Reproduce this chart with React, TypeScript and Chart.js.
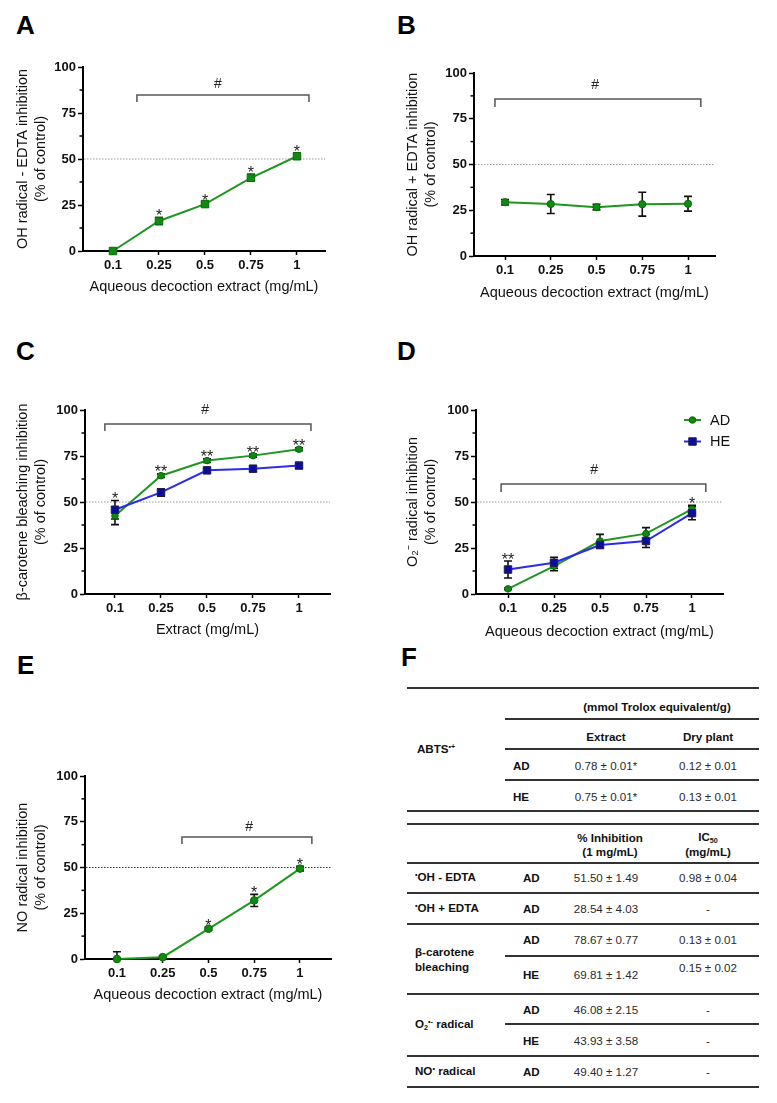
import React, { useEffect, useRef } from 'react';
import { Chart, registerables } from 'chart.js';

Chart.register(...registerables);

const FONT = '"Liberation Sans", Arial, Helvetica, sans-serif';
const GREEN = '#1f961f';
const GREEN_PT = '#108a10';
const BLUE = '#2a2af0';
const BLUE_PT = '#0c0ca0';

// ---------- data ----------
const doses = ['0.1', '0.25', '0.5', '0.75', '1'];

const ohMinusEdta = [0, 16.3, 25.5, 39.8, 51.5];
const ohMinusEdtaErr = [0.5, 1.9, 1.0, 1.9, 1.49];
const starsA = ['', '*', '*', '*', '*'];

const ohPlusEdta = [29.4, 28.4, 26.7, 28.3, 28.54];
const ohPlusEdtaErr = [1.5, 5.2, 1.5, 6.5, 4.03];
const starsB = ['', '', '', '', ''];

const betaAD = [42.5, 64.3, 72.5, 75.2, 78.67];
const betaADErr = [4.8, 1.0, 1.0, 0.8, 0.77];
const betaHE = [45.8, 55.2, 67.2, 68.1, 69.81];
const betaHEErr = [5.0, 2.0, 1.4, 1.4, 1.42];
const starsC = ['*', '**', '**', '**', '**'];

const superAD = [2.8, 15.2, 28.8, 32.8, 46.08];
const superADErr = [0.5, 2.5, 3.6, 3.3, 2.15];
const superHE = [13.3, 17.0, 26.6, 28.8, 43.93];
const superHEErr = [4.6, 3.0, 1.5, 3.5, 3.58];
const starsD = ['**', '', '', '', '*'];

const noAD = [0, 1.0, 16.5, 32, 49.4];
const noADErr = [4, 0.8, 0.8, 3.3, 1.27];
const starsE = ['', '', '*', '*', '*'];

// bracket: [x from, x to, level, tick end] (x in category index units, y in % units)
const bracketA = [0.52, 4.26, 84.8, 81];
const bracketB = [-0.22, 4.28, 85.8, 81.4];
const bracketC = [-0.22, 4.26, 92.4, 88.6];
const bracketD = [-0.15, 4.3, 59.8, 55.4];
const bracketE = [1.42, 4.26, 66.7, 62.8];
// hash sign position [x, y]
const hashA = [2.28, 90.8];
const hashB = [1.97, 93.4];
const hashC = [1.96, 100];
const hashD = [1.87, 67.4];
const hashE = [2.89, 72];

const refLevel = 50;

type Series = {
  label: string;
  values: number[];
  errors: number[];
  color: string;
  pointColor: string;
  pointBorder: string;
  pointStyle: string;
  radius: number;
};

type Panel = {
  box: [number, number, number, number]; // left, top, width, height (page)
  area: [number, number, number, number]; // left, right, top, bottom (page)
  xMin: number;
  xMax: number;
  yTitle: string[];
  xTitle: string;
  series: Series[];
  stars: string[];
  bracket: number[];
  hash: number[];
  refColor: string;
  legend?: { x: number; y: number; dy: number };
};

const adSeries = (values: number[], errors: number[], style = 'circle', radius = 3.3): Series => ({
  label: 'AD',
  values,
  errors,
  color: GREEN,
  pointColor: GREEN_PT,
  pointBorder: '#0a6a0a',
  pointStyle: style,
  radius,
});
const heSeries = (values: number[], errors: number[]): Series => ({
  label: 'HE',
  values,
  errors,
  color: BLUE,
  pointColor: BLUE_PT,
  pointBorder: '#222244',
  pointStyle: 'rect',
  radius: 5.3,
});

const panels: Panel[] = [
  {
    box: [0, 40, 390, 260],
    area: [83, 325, 67, 251],
    xMin: -0.652,
    xMax: 4.609,
    yTitle: ['OH radical - EDTA inhibition', '(% of control)'],
    xTitle: 'Aqueous decoction extract (mg/mL)',
    series: [adSeries(ohMinusEdta, ohMinusEdtaErr, 'rect', 5.3)],
    stars: starsA,
    bracket: bracketA,
    hash: hashA,
    refColor: '#9a9a9a',
  },
  {
    box: [390, 40, 387, 266],
    area: [474, 715, 73, 256],
    xMin: -0.678,
    xMax: 4.59,
    yTitle: ['OH radical + EDTA inhibition', '(% of control)'],
    xTitle: 'Aqueous decoction extract (mg/mL)',
    series: [adSeries(ohPlusEdta, ohPlusEdtaErr, 'circle', 3.6)],
    stars: starsB,
    bracket: bracketB,
    hash: hashB,
    refColor: '#9a9a9a',
  },
  {
    box: [0, 370, 390, 273],
    area: [85, 330, 410, 594],
    xMin: -0.652,
    xMax: 4.674,
    yTitle: ['β-carotene bleaching inhibition', '(% of control)'],
    xTitle: 'Extract (mg/mL)',
    series: [heSeries(betaHE, betaHEErr), adSeries(betaAD, betaADErr)],
    stars: starsC,
    bracket: bracketC,
    hash: hashC,
    refColor: '#9a9a9a',
  },
  {
    box: [390, 370, 387, 275],
    area: [476, 723, 410, 594],
    xMin: -0.696,
    xMax: 4.674,
    yTitle: ['O₂⁻ radical inhibition', '(% of control)'],
    xTitle: 'Aqueous decoction extract (mg/mL)',
    series: [heSeries(superHE, superHEErr), adSeries(superAD, superADErr)],
    stars: starsD,
    bracket: bracketD,
    hash: hashD,
    refColor: '#9a9a9a',
    legend: { x: 294, y: 50, dy: 21.5 },
  },
  {
    box: [0, 700, 390, 308],
    area: [85, 331, 776, 959],
    xMin: -0.699,
    xMax: 4.678,
    yTitle: ['NO radical inhibition', '(% of control)'],
    xTitle: 'Aqueous decoction extract (mg/mL)',
    series: [adSeries(noAD, noADErr, 'circle', 3.8)],
    stars: starsE,
    bracket: bracketE,
    hash: hashE,
    refColor: '#333333',
  },
];

function makePlugin(p: Panel) {
  return {
    id: 'annot',
    beforeDatasetsDraw(chart: any) {
      const { ctx, chartArea } = chart;
      const xs = chart.scales.x;
      const ys = chart.scales.y;
      ctx.save();
      // reference line
      const y50 = ys.getPixelForValue(refLevel);
      ctx.strokeStyle = p.refColor;
      ctx.lineWidth = 1;
      ctx.setLineDash([1.5, 1.5]);
      ctx.beginPath();
      ctx.moveTo(chartArea.left + 1, y50);
      ctx.lineTo(chartArea.right, y50);
      ctx.stroke();
      ctx.setLineDash([]);
      // error bars
      ctx.strokeStyle = '#111';
      ctx.lineWidth = 1.6;
      p.series.forEach((s) => {
        s.values.forEach((v, i) => {
          const e = s.errors[i];
          if (!e) return;
          const x = xs.getPixelForValue(i);
          const top = ys.getPixelForValue(v + e);
          const lowV = v - e;
          const bot = ys.getPixelForValue(Math.max(0, lowV));
          ctx.beginPath();
          ctx.moveTo(x, top);
          ctx.lineTo(x, bot);
          ctx.moveTo(x - 4, top);
          ctx.lineTo(x + 4, top);
          if (lowV >= 0) {
            ctx.moveTo(x - 4, bot);
            ctx.lineTo(x + 4, bot);
          }
          ctx.stroke();
        });
      });
      ctx.restore();
    },
    afterDatasetsDraw(chart: any) {
      const { ctx, chartArea } = chart;
      const xs = chart.scales.x;
      const ys = chart.scales.y;
      ctx.save();
      // minor y ticks
      ctx.strokeStyle = '#000';
      ctx.lineWidth = 1.5;
      [12.5, 37.5, 62.5, 87.5].forEach((v) => {
        const y = ys.getPixelForValue(v);
        ctx.beginPath();
        ctx.moveTo(chartArea.left - 3.5, y);
        ctx.lineTo(chartArea.left, y);
        ctx.stroke();
      });
      // stars
      ctx.fillStyle = '#222';
      ctx.font = `16px ${FONT}`;
      ctx.textAlign = 'center';
      ctx.textBaseline = 'alphabetic';
      p.stars.forEach((st, i) => {
        if (!st) return;
        let m = -Infinity;
        p.series.forEach((s) => {
          m = Math.max(m, s.values[i] + (s.errors[i] || 0));
        });
        const x = xs.getPixelForValue(i);
        const y = ys.getPixelForValue(m);
        ctx.fillText(st, x, y + 3.5);
      });
      // bracket
      const [b0, b1, lv, le] = p.bracket;
      const bx0 = xs.getPixelForValue(b0);
      const bx1 = xs.getPixelForValue(b1);
      const by = ys.getPixelForValue(lv);
      const be = ys.getPixelForValue(le);
      ctx.strokeStyle = '#555';
      ctx.lineWidth = 1.5;
      ctx.beginPath();
      ctx.moveTo(bx0, be);
      ctx.lineTo(bx0, by);
      ctx.lineTo(bx1, by);
      ctx.lineTo(bx1, be);
      ctx.stroke();
      // hash
      ctx.font = `14px ${FONT}`;
      ctx.textBaseline = 'middle';
      ctx.fillStyle = '#222';
      ctx.fillText('#', xs.getPixelForValue(p.hash[0]), ys.getPixelForValue(p.hash[1]));
      // legend
      if (p.legend) {
        const L = p.legend;
        const order = [...p.series].sort((a, b) => (a.label < b.label ? -1 : 1));
        order.forEach((s, k) => {
          const y = L.y + k * L.dy;
          ctx.strokeStyle = s.color;
          ctx.lineWidth = 2;
          ctx.beginPath();
          ctx.moveTo(L.x, y);
          ctx.lineTo(L.x + 17, y);
          ctx.stroke();
          ctx.fillStyle = s.pointColor;
          ctx.strokeStyle = s.pointBorder;
          ctx.lineWidth = 1;
          const cx = L.x + 8.5;
          if (s.pointStyle === 'rect') {
            const h = s.radius * Math.SQRT1_2;
            ctx.beginPath();
            ctx.rect(cx - h, y - h, 2 * h, 2 * h);
            ctx.fill();
            ctx.stroke();
          } else {
            ctx.beginPath();
            ctx.arc(cx, y, s.radius, 0, Math.PI * 2);
            ctx.fill();
            ctx.stroke();
          }
          ctx.fillStyle = '#111';
          ctx.font = `14.5px ${FONT}`;
          ctx.textAlign = 'left';
          ctx.textBaseline = 'middle';
          ctx.fillText(s.label, L.x + 26, y + 0.5);
        });
      }
      ctx.restore();
    },
  };
}

function ChartPanel({ p }: { p: Panel }) {
  const ref = useRef<HTMLCanvasElement | null>(null);
  useEffect(() => {
    const canvas = ref.current;
    if (!canvas) return;
    const [bl, bt, bw, bh] = p.box;
    const [al, ar, at, ab] = p.area;
    const yW = al - bl;
    const xH = bt + bh - ab;
    const padTop = at - bt;
    const padRight = bl + bw - ar;
    const chart = new Chart(canvas, {
      type: 'line',
      data: {
        datasets: p.series.map((s) => ({
          label: s.label,
          data: s.values.map((v, i) => ({ x: i, y: v })),
          borderColor: s.color,
          borderWidth: 2,
          backgroundColor: s.pointColor,
          pointBackgroundColor: s.pointColor,
          pointBorderColor: s.pointBorder,
          pointBorderWidth: 1,
          pointStyle: s.pointStyle as any,
          pointRadius: s.radius,
          tension: 0,
          clip: false as any,
        })),
      },
      options: {
        animation: false,
        responsive: false,
        maintainAspectRatio: false,
        events: [],
        layout: { padding: { left: 0, top: padTop, right: padRight, bottom: 0 } },
        plugins: { legend: { display: false }, tooltip: { enabled: false } },
        scales: {
          x: {
            type: 'linear',
            min: p.xMin,
            max: p.xMax,
            afterBuildTicks: (s: any) => {
              s.ticks = doses.map((_, i) => ({ value: i }));
            },
            afterFit: (s: any) => {
              s.height = xH;
            },
            ticks: {
              callback: (v: any) => doses[v as number] ?? '',
              font: { family: FONT, size: 13, weight: 'bold' },
              color: '#111',
              padding: 3,
              autoSkip: false,
              maxRotation: 0,
            },
            grid: {
              display: true,
              drawOnChartArea: false,
              drawTicks: true,
              tickLength: 4,
              tickColor: '#000',
              tickWidth: 1.5,
            },
            border: { display: true, color: '#000', width: 2 },
            title: {
              display: true,
              text: p.xTitle,
              font: { family: FONT, size: 14.5, lineHeight: 1.25 },
              color: '#111',
              padding: { top: 0, bottom: 4 },
            },
          },
          y: {
            min: 0,
            max: 100,
            afterFit: (s: any) => {
              s.width = yW;
            },
            ticks: {
              stepSize: 25,
              font: { family: FONT, size: 13, weight: 'bold' },
              color: '#111',
              padding: 2,
            },
            grid: {
              display: true,
              drawOnChartArea: false,
              drawTicks: true,
              tickLength: 5,
              tickColor: '#000',
              tickWidth: 1.5,
            },
            border: { display: true, color: '#000', width: 2 },
            title: {
              display: true,
              text: p.yTitle,
              font: { family: FONT, size: 14.5, lineHeight: 1.25 },
              color: '#111',
              padding: { top: 14, bottom: 0 },
            },
          },
        },
      } as any,
      plugins: [makePlugin(p) as any],
    });
    return () => chart.destroy();
  }, [p]);
  const [bl, bt, bw, bh] = p.box;
  return (
    <canvas
      ref={ref}
      width={bw}
      height={bh}
      style={{ position: 'absolute', left: bl, top: bt, width: bw, height: bh }}
    />
  );
}

// ---------- table ----------
const abtsRows = [
  ['AD', '0.78 ± 0.01*', '0.12 ± 0.01'],
  ['HE', '0.75 ± 0.01*', '0.13 ± 0.01'],
];
const ohMinusRow = ['AD', '51.50 ± 1.49', '0.98 ± 0.04'];
const ohPlusRow = ['AD', '28.54 ± 4.03', '-'];
const betaRows = [
  ['AD', '78.67 ± 0.77', '0.13 ± 0.01'],
  ['HE', '69.81 ± 1.42', '0.15 ± 0.02'],
];
const superRows = [
  ['AD', '46.08 ± 2.15', '-'],
  ['HE', '43.93 ± 3.58', '-'],
];
const noRow = ['AD', '49.40 ± 1.27', '-'];

const Sup = ({ children }: { children: React.ReactNode }) => (
  <span style={{ fontSize: '0.62em', position: 'relative', top: '-0.55em' }}>{children}</span>
);
const Sub = ({ children }: { children: React.ReactNode }) => (
  <span style={{ fontSize: '0.62em', position: 'relative', top: '0.3em' }}>{children}</span>
);

function Txt({
  x,
  y,
  children,
  center = false,
  bold = false,
  size = 11.6,
}: {
  x: number;
  y: number;
  children: React.ReactNode;
  center?: boolean;
  bold?: boolean;
  size?: number;
}) {
  return (
    <div
      style={{
        position: 'absolute',
        left: x,
        top: y,
        transform: `translate(${center ? '-50%' : '0'}, -50%)`,
        whiteSpace: 'nowrap',
        fontFamily: FONT,
        fontSize: size,
        fontWeight: bold ? 700 : 400,
        color: bold ? '#111' : '#2a2a2a',
        lineHeight: '14px',
      }}
    >
      {children}
    </div>
  );
}

function HLine({ y, x1, x2 }: { y: number; x1: number; x2: number }) {
  return (
    <div
      style={{ position: 'absolute', left: x1, top: y - 1, width: x2 - x1, height: 2, background: '#333' }}
    />
  );
}

const TL = 407;
const TR = 759;
const TM = 505;
const C2 = 523;
const C3 = 606;
const C4 = 708;

function TableF() {
  return (
    <>
      <HLine y={688} x1={TL} x2={TR} />
      <Txt x={657} y={707} center bold>
        (mmol Trolox equivalent/g)
      </Txt>
      <HLine y={719} x1={TM} x2={TR} />
      <Txt x={C3} y={737} center bold>
        Extract
      </Txt>
      <Txt x={C4} y={737} center bold>
        Dry plant
      </Txt>
      <HLine y={749} x1={TM} x2={TR} />
      <Txt x={417} y={750} bold>
        ABTS<Sup>•+</Sup>
      </Txt>
      {abtsRows.map((r, k) => (
        <React.Fragment key={r[0]}>
          <Txt x={513} y={766 + k * 31} bold>
            {r[0]}
          </Txt>
          <Txt x={C3} y={766 + k * 31} center>
            {r[1]}
          </Txt>
          <Txt x={C4} y={766 + k * 31} center>
            {r[2]}
          </Txt>
        </React.Fragment>
      ))}
      <HLine y={780} x1={TM} x2={TR} />
      <HLine y={811} x1={TL} x2={TR} />
      <HLine y={824} x1={TL} x2={TR} />
      <Txt x={610} y={838} center bold>
        % Inhibition
      </Txt>
      <Txt x={610} y={852} center bold>
        (1 mg/mL)
      </Txt>
      <Txt x={C4} y={838} center bold>
        IC<Sub>50</Sub>
      </Txt>
      <Txt x={C4} y={852} center bold>
        (mg/mL)
      </Txt>
      <HLine y={863} x1={TL} x2={TR} />

      <Txt x={415} y={878} bold>
        <Sup>•</Sup>OH - EDTA
      </Txt>
      <Txt x={C2} y={878} bold>
        {ohMinusRow[0]}
      </Txt>
      <Txt x={C3} y={878} center>
        {ohMinusRow[1]}
      </Txt>
      <Txt x={C4} y={878} center>
        {ohMinusRow[2]}
      </Txt>
      <HLine y={893} x1={TL} x2={TR} />

      <Txt x={415} y={909} bold>
        <Sup>•</Sup>OH + EDTA
      </Txt>
      <Txt x={C2} y={909} bold>
        {ohPlusRow[0]}
      </Txt>
      <Txt x={C3} y={909} center>
        {ohPlusRow[1]}
      </Txt>
      <Txt x={C4} y={909} center>
        {ohPlusRow[2]}
      </Txt>
      <HLine y={924} x1={TL} x2={TR} />

      <Txt x={415} y={952} bold>
        β-carotene
      </Txt>
      <Txt x={415} y={967} bold>
        bleaching
      </Txt>
      <Txt x={C2} y={940} bold>
        {betaRows[0][0]}
      </Txt>
      <Txt x={C3} y={940} center>
        {betaRows[0][1]}
      </Txt>
      <Txt x={C4} y={940} center>
        {betaRows[0][2]}
      </Txt>
      <HLine y={956} x1={TM} x2={TR} />
      <Txt x={C2} y={975} bold>
        {betaRows[1][0]}
      </Txt>
      <Txt x={C3} y={975} center>
        {betaRows[1][1]}
      </Txt>
      <Txt x={C4} y={968} center>
        {betaRows[1][2]}
      </Txt>
      <HLine y={994} x1={TL} x2={TR} />

      <Txt x={415} y={1025} bold>
        O<Sub>2</Sub>
        <Sup>•-</Sup> radical
      </Txt>
      {superRows.map((r, k) => (
        <React.Fragment key={r[0]}>
          <Txt x={C2} y={1010 + k * 31} bold>
            {r[0]}
          </Txt>
          <Txt x={C3} y={1010 + k * 31} center>
            {r[1]}
          </Txt>
          <Txt x={C4} y={1010 + k * 31} center>
            {r[2]}
          </Txt>
        </React.Fragment>
      ))}
      <HLine y={1024} x1={TM} x2={TR} />
      <HLine y={1056} x1={TL} x2={TR} />

      <Txt x={415} y={1072} bold>
        NO<Sup>•</Sup> radical
      </Txt>
      <Txt x={C2} y={1072} bold>
        {noRow[0]}
      </Txt>
      <Txt x={C3} y={1072} center>
        {noRow[1]}
      </Txt>
      <Txt x={C4} y={1072} center>
        {noRow[2]}
      </Txt>
      <HLine y={1087} x1={TL} x2={TR} />
    </>
  );
}

const letters: [string, number, number][] = [
  ['A', 16, 12],
  ['B', 397, 12],
  ['C', 16, 338],
  ['D', 397, 338],
  ['E', 17, 652],
  ['F', 401, 644],
];

export default function App() {
  return (
    <div
      style={{
        position: 'absolute',
        left: 0,
        top: 0,
        width: 777,
        height: 1103,
        background: '#fff',
        overflow: 'hidden',
      }}
    >
      {letters.map(([t, x, y]) => (
        <div
          key={t}
          style={{
            position: 'absolute',
            left: x,
            top: y,
            fontFamily: FONT,
            fontWeight: 700,
            fontSize: 26,
            lineHeight: '26px',
            color: '#000',
          }}
        >
          {t}
        </div>
      ))}
      {panels.map((p, i) => (
        <ChartPanel key={i} p={p} />
      ))}
      <TableF />
    </div>
  );
}
